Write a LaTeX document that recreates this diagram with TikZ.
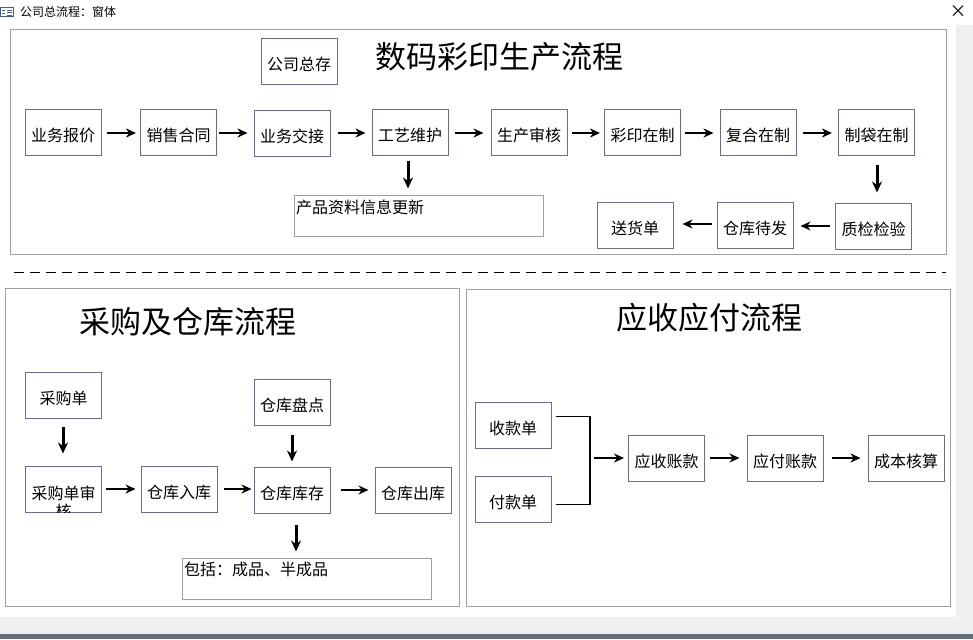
\documentclass[tikz,border=0pt]{standalone}
\usepackage{fontspec}
\newfontfamily\cjk{Noto Sans CJK SC}
\usetikzlibrary{arrows.meta}
\definecolor{boxc}{RGB}{108,104,160}
\definecolor{framec}{RGB}{160,160,160}
\definecolor{lgray}{RGB}{240,240,240}
\definecolor{dgray}{RGB}{100,108,122}
\definecolor{iconc}{RGB}{60,90,160}
\tikzset{
  box/.style={draw=boxc, line width=1pt, minimum width=76pt, minimum height=46pt, inner sep=0pt, text height=18pt, text depth=0pt, font=\cjk\fontsize{16}{17}\selectfont},
  infobox/.style={draw=framec, line width=1pt, inner sep=0pt},
  infotext/.style={anchor=west, inner sep=0pt, font=\cjk\fontsize{16}{17}\selectfont},
  panel/.style={draw=framec, line width=1pt},
  arr/.style={line width=2pt, -{Stealth[length=10pt,width=9pt]}},
  varr/.style={line width=3pt, -{Stealth[length=11pt,width=10pt]}},
  ttl/.style={inner sep=0pt, font=\cjk\fontsize{31}{34}\selectfont},
}
\begin{document}
\begin{tikzpicture}[x=1pt,y=-1pt]
\useasboundingbox (0,0) rectangle (973,639);
\fill[white] (0,0) rectangle (973,639);
% window chrome
\fill[lgray] (956,25) rectangle (973,617);
\fill[lgray] (0,617) rectangle (973,634);
\fill[dgray] (0,634) rectangle (973,639);
\draw[iconc, line width=1pt, fill=white] (0.5,7.5) rectangle (13,17);
\draw[iconc, line width=0.8pt] (2,10) -- (5,10) (2,13) -- (5,13) (7,10) -- (11.5,10) (7,12.5) -- (11.5,12.5) (7,15) -- (11.5,15);
\node[anchor=west, inner sep=0pt, font=\cjk\fontsize{12}{13}\selectfont] (wtitle) at (20,12) {公司总流程：窗体};
\node[inner sep=0pt, font=\cjk\fontsize{17}{18}\selectfont] (wclose) at (958,12) {×};

% ===== top panel =====
\draw[panel] (10,30) rectangle (946,254);
\node[ttl] (t1) at (499.5,57) {数码彩印生产流程};
\node[box] (zc) at (299,62) {公司总存};
\node[box] (a1) at (63,133) {业务报价};
\node[box] (a2) at (178.5,133) {销售合同};
\node[box] (a3) at (292,133.5) {业务交接};
\node[box] (a4) at (410,133) {工艺维护};
\node[box] (a5) at (529,133) {生产审核};
\node[box] (a6) at (642.5,133) {彩印在制};
\node[box] (a7) at (758,133) {复合在制};
\node[box] (a8) at (876.5,133) {制袋在制};
\node[box] (b1) at (873.5,226) {质检检验};
\node[box] (b2) at (755,225) {仓库待发};
\node[box] (b3) at (635,225) {送货单};
\node[infobox, minimum width=249pt, minimum height=41pt] (p1) at (418.5,215.5) {};
\node[infotext] (p1t) at (296,207) {产品资料信息更新};

\draw[arr, shorten <=5pt, shorten >=4pt] (a1.east) -- (a2.west);
\draw[arr, shorten <=2pt, shorten >=6pt] (a2.east) -- (a2.east -| a3.west);
\draw[arr, shorten <=7pt, shorten >=6pt] (a3.east |- a4.east) -- (a4.west);
\draw[arr, shorten <=6pt, shorten >=7pt] (a4.east) -- (a5.west);
\draw[arr, shorten <=4pt, shorten >=4pt] (a5.east) -- (a6.west);
\draw[arr, shorten <=4pt, shorten >=6pt] (a6.east) -- (a7.west);
\draw[arr, shorten <=6pt, shorten >=6pt] (a7.east) -- (a8.west);
\draw[varr, shorten <=5pt, shorten >=6pt] ([xshift=-2pt]a4.south) -- ([xshift=-2pt]a4.south |- p1.north);
\draw[varr, shorten <=9pt, shorten >=10pt] ([xshift=0.5pt]a8.south) -- ([xshift=0.5pt]a8.south |- b1.north);
\draw[arr, shorten <=5pt, shorten >=7pt] (b1.west) -- (b1.west -| b2.east);
\draw[arr, shorten <=5pt, shorten >=9pt] ([yshift=1pt]b2.west) -- ([yshift=1pt]b2.west -| b3.east);

% dashed separator
\coordinate (dl) at (14,272);
\coordinate (dr) at (946,272);
\draw[line width=1pt, dash pattern=on 10pt off 6pt] (dl) -- (dr);

% ===== bottom-left panel =====
\draw[panel] (5,288) rectangle (459,606);
\node[ttl] (t2) at (187.5,322) {采购及仓库流程};
\node[box] (c1) at (63.5,395) {采购单};
\node[box] (c2) at (63.5,489) {};
\begin{scope}
  \clip (c2.south west) rectangle (c2.north east);
  \node[inner sep=0pt, align=center, font=\cjk\fontsize{16}{18}\selectfont] (c2t) at (63.5,502) {采购单审\\核};
\end{scope}
\node[box] (c3) at (179,489) {仓库入库};
\node[box] (c4) at (292,402) {仓库盘点};
\node[box] (c5) at (292,490) {仓库库存};
\node[box] (c6) at (413,490) {仓库出库};
\node[infobox, minimum width=249pt, minimum height=41pt] (p2) at (306.5,578.5) {};
\node[infotext] (p2t) at (184,569) {包括：成品、半成品};

\draw[varr, shorten <=8pt, shorten >=12pt] ([xshift=-0.5pt]c1.south) -- ([xshift=-0.5pt]c2.north);
\draw[arr, shorten <=4pt, shorten >=5pt] (c2.east) -- (c3.west);
\draw[arr, shorten <=6pt, shorten >=2pt] (c3.east) -- (c3.east -| c5.west);
\draw[arr, shorten <=10pt, shorten >=6pt] (c5.east) -- (c6.west);
\draw[varr, shorten <=9pt, shorten >=5pt] (c4.south) -- (c5.north);
\draw[varr, shorten <=11pt, shorten >=6pt] ([xshift=4pt]c5.south) -- ([xshift=4pt]c5.south |- p2.north);

% ===== bottom-right panel =====
\draw[panel] (466,289) rectangle (950,606);
\node[ttl] (t3) at (709,318) {应收应付流程};
\node[box] (d1) at (513,425) {收款单};
\node[box] (d2) at (513,499) {付款单};
\node[box] (e1) at (666.5,458) {应收账款};
\node[box] (e2) at (785,458) {应付账款};
\node[box] (e3) at (906,458) {成本核算};
\coordinate (jt) at (590,416);
\coordinate (jb) at (590,504);
\coordinate (jm) at (590,458);
\draw[line width=1pt] ([xshift=4pt]d1.east |- jt) -- (jt);
\draw[line width=1pt] ([xshift=4pt]d2.east |- jb) -- (jb);
\draw[line width=2pt] ([yshift=0.5pt]jt) -- ([yshift=-0.5pt]jb);
\draw[arr, shorten <=4pt, shorten >=4pt] (jm) -- (e1.west);
\draw[arr, shorten <=5pt, shorten >=7pt] (e1.east) -- (e2.west);
\draw[arr, shorten <=8pt, shorten >=7pt] (e2.east) -- (e3.west);
\end{tikzpicture}
\end{document}
